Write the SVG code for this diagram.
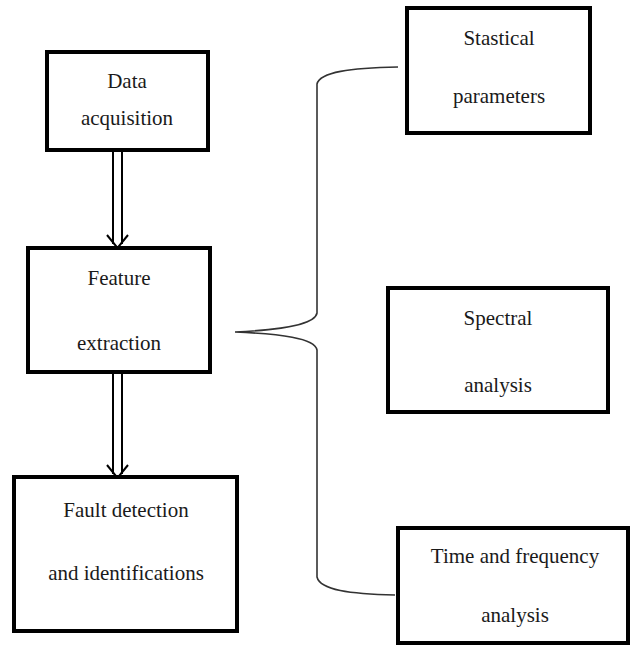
<svg xmlns="http://www.w3.org/2000/svg" width="634" height="654" viewBox="0 0 634 654">
<style>
.box{fill:#fff;stroke:#000;stroke-width:4}
.t{font-family:'Liberation Serif','DejaVu Serif','Times New Roman',serif;font-size:21px;fill:#1a1a1a;text-anchor:middle}
.ln{stroke:#000;stroke-width:2;fill:none}
.br{stroke:#333;stroke-width:1.6;fill:none}
</style>
<rect width="634" height="654" fill="#fff"/>
<g id="connectors">
<line class="ln" x1="113" y1="150" x2="113" y2="244"/>
<line class="ln" x1="122" y1="150" x2="122" y2="244"/>
<polyline class="ln" points="107,235 117.5,248 128,235"/>
<line class="ln" x1="113" y1="372" x2="113" y2="474"/>
<line class="ln" x1="122" y1="372" x2="122" y2="474"/>
<polyline class="ln" points="107,465 117.5,478 128,465"/>
<path class="br" d="M398,67 C350,68 320,72 317,84 L317,313 C315,325 280,330 235,332 C280,334 315,338 317,350 L317,577 C320,590 350,594 395,595"/>
</g>
<g id="data-acquisition">
<rect class="box" x="47" y="52" width="161" height="98"/>
<text class="t" x="127" y="88">Data</text>
<text class="t" x="127" y="125">acquisition</text>
</g>
<g id="feature-extraction">
<rect class="box" x="28" y="248" width="182" height="124"/>
<text class="t" x="119" y="285">Feature</text>
<text class="t" x="119" y="350">extraction</text>
</g>
<g id="fault-detection">
<rect class="box" x="14" y="477" width="223" height="154"/>
<text class="t" x="126" y="517">Fault detection</text>
<text class="t" x="126" y="580">and identifications</text>
</g>
<g id="statistical-parameters">
<rect class="box" x="407" y="8" width="183" height="125"/>
<text class="t" x="499" y="45">Stastical</text>
<text class="t" x="499" y="103">parameters</text>
</g>
<g id="spectral-analysis">
<rect class="box" x="388" y="288" width="220" height="124"/>
<text class="t" x="498" y="325">Spectral</text>
<text class="t" x="498" y="392">analysis</text>
</g>
<g id="time-frequency">
<rect class="box" x="398" y="528" width="230" height="115"/>
<text class="t" x="515" y="563">Time and frequency</text>
<text class="t" x="515" y="622">analysis</text>
</g>
</svg>
